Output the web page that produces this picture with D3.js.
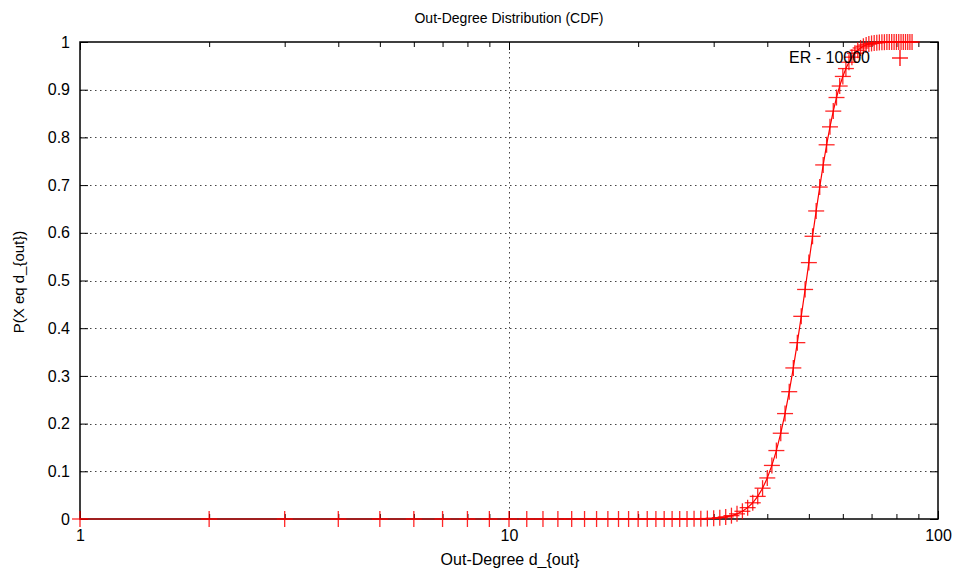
<!DOCTYPE html>
<html>
<head>
<meta charset="utf-8">
<script src="https://cdn.jsdelivr.net/npm/d3@7"></script>
<style>
  body { margin: 0; background: #fff; }
  text { font-family: "Liberation Sans", Arial, sans-serif; fill: #000; }
</style>
</head>
<body>
<div id="chart"></div>
<script>
// out-degree d (1..87) and cumulative probability
var degrees = d3.range(1, 88);
var cdf = [
  0, 0, 0, 0, 0, 0, 0, 0, 0, 0,
  0, 0, 0, 0, 0, 0, 0, 0, 0, 0,
  0, 0, 0, 0, 0, 0.0001, 0.0003, 0.0005, 0.0009, 0.0016,
  0.0027, 0.0044, 0.0070, 0.0108, 0.0162, 0.0238, 0.0340, 0.0474, 0.0646, 0.0861,
  0.1123, 0.1435, 0.1798, 0.2210, 0.2669, 0.3167, 0.3697, 0.4249, 0.4812, 0.5375,
  0.5927, 0.6458, 0.6959, 0.7423, 0.7845, 0.8221, 0.8551, 0.8836, 0.9077, 0.9278,
  0.9443, 0.9576, 0.9682, 0.9764, 0.9827, 0.9875, 0.9911, 0.9937, 0.9956, 0.9970,
  0.9980, 0.9986, 0.9991, 0.9994, 0.9996, 0.9998, 0.9999, 1, 1, 1,
  1, 1, 1, 1, 1, 1, 1
];
var xTickLabels = [1, 10, 100];
var yTickValues = [0, 0.1, 0.2, 0.3, 0.4, 0.5, 0.6, 0.7, 0.8, 0.9, 1];
var seriesName = "ER - 10000";

var W = 957, H = 568;
var margin = { top: 42, right: 19, bottom: 49, left: 80 },
  width = W - margin.left - margin.right,
  height = H - margin.top - margin.bottom;

var svg = d3.select("#chart").append("svg")
  .attr("width", W).attr("height", H);

var g = svg.append("g")
  .attr("transform", "translate(" + margin.left + "," + margin.top + ")");

var x = d3.scaleLog().domain([1, 100]).range([0, width]);
var y = d3.scaleLinear().domain([0, 1]).range([height, 0]);

// minor ticks for the log axis
var minorX = [];
[1, 10].forEach(function (b) {
  for (var k = 2; k <= 9; k++) minorX.push(b * k);
});

// grid (dotted)
var grid = g.append("g").attr("class", "grid")
  .attr("stroke", "#444").attr("stroke-width", 1)
  .attr("stroke-dasharray", "1.5,3.5");
grid.selectAll("line.gy")
  .data(yTickValues.filter(function (v) { return v > 0 && v < 1; }))
  .enter().append("line")
  .attr("x1", 0).attr("x2", width)
  .attr("y1", function (d) { return Math.round(y(d)) + 0.5; })
  .attr("y2", function (d) { return Math.round(y(d)) + 0.5; });
grid.append("line")
  .attr("x1", Math.round(x(10)) + 0.5).attr("x2", Math.round(x(10)) + 0.5)
  .attr("y1", 0).attr("y2", height);

// axes: ticks inward, mirrored
var axisBottom = g.append("g")
  .attr("transform", "translate(0," + height + ")")
  .call(d3.axisBottom(x).tickValues(xTickLabels).tickSize(-8).tickPadding(11)
    .tickFormat(d3.format("d")));
var axisTop = g.append("g")
  .call(d3.axisTop(x).tickValues(xTickLabels).tickSize(-8).tickFormat(""));
var minorB = g.append("g")
  .attr("transform", "translate(0," + height + ")")
  .call(d3.axisBottom(x).tickValues(minorX).tickSize(-5).tickFormat(""));
var minorT = g.append("g")
  .call(d3.axisTop(x).tickValues(minorX).tickSize(-5).tickFormat(""));
var axisLeft = g.append("g")
  .call(d3.axisLeft(y).tickValues(yTickValues).tickSize(-8).tickPadding(10)
    .tickFormat(function (d) { return d === 0 || d === 1 ? d : d3.format(".1f")(d); }));
var axisRight = g.append("g")
  .attr("transform", "translate(" + width + ",0)")
  .call(d3.axisRight(y).tickValues(yTickValues).tickSize(-8).tickFormat(""));

[axisBottom, axisTop, minorB, minorT, axisLeft, axisRight].forEach(function (a) {
  a.select(".domain").remove();
  a.selectAll("line").attr("stroke", "#000");
  a.selectAll("text").style("font-size", "16px")
    .style("font-family", "'Liberation Sans', Arial, sans-serif");
});

// border
g.append("rect")
  .attr("x", 0).attr("y", 0).attr("width", width).attr("height", height)
  .attr("fill", "none").attr("stroke", "#000").attr("stroke-width", 1.5);

// data line
var pts = degrees.map(function (d, i) { return [d, cdf[i]]; });
g.append("path")
  .datum(pts)
  .attr("fill", "none")
  .attr("stroke", "#ff0000")
  .attr("stroke-width", 1.2)
  .attr("d", d3.line()
    .x(function (d) { return x(d[0]); })
    .y(function (d) { return y(d[1]); }));

// plus markers
var ms = 8;
function plus(sel) {
  sel.append("line").attr("x1", -ms).attr("x2", ms).attr("y1", 0).attr("y2", 0);
  sel.append("line").attr("x1", 0).attr("x2", 0).attr("y1", -ms).attr("y2", ms);
}
var marks = g.append("g").attr("stroke", "#ff0000").attr("stroke-width", 1.3)
  .attr("stroke-opacity", 0.85);
marks.selectAll("g.pt").data(pts).enter().append("g")
  .attr("class", "pt")
  .attr("transform", function (d) { return "translate(" + x(d[0]) + "," + y(d[1]) + ")"; })
  .call(plus);

// legend
svg.append("text")
  .attr("x", 870).attr("y", 63)
  .attr("text-anchor", "end")
  .style("font-size", "16px")
  .text(seriesName);
svg.append("g")
  .attr("stroke", "#ff0000").attr("stroke-width", 1.3)
  .attr("transform", "translate(900,58)")
  .call(plus);

// titles
svg.append("text")
  .attr("x", 509).attr("y", 23)
  .attr("text-anchor", "middle")
  .style("font-size", "14px")
  .text("Out-Degree Distribution (CDF)");
svg.append("text")
  .attr("x", 510).attr("y", 565)
  .attr("text-anchor", "middle")
  .style("font-size", "16px")
  .text("Out-Degree d_{out}");
svg.append("text")
  .attr("transform", "translate(24,282) rotate(-90)")
  .attr("text-anchor", "middle")
  .style("font-size", "15px")
  .text("P(X eq d_{out})");
</script>
</body>
</html>
